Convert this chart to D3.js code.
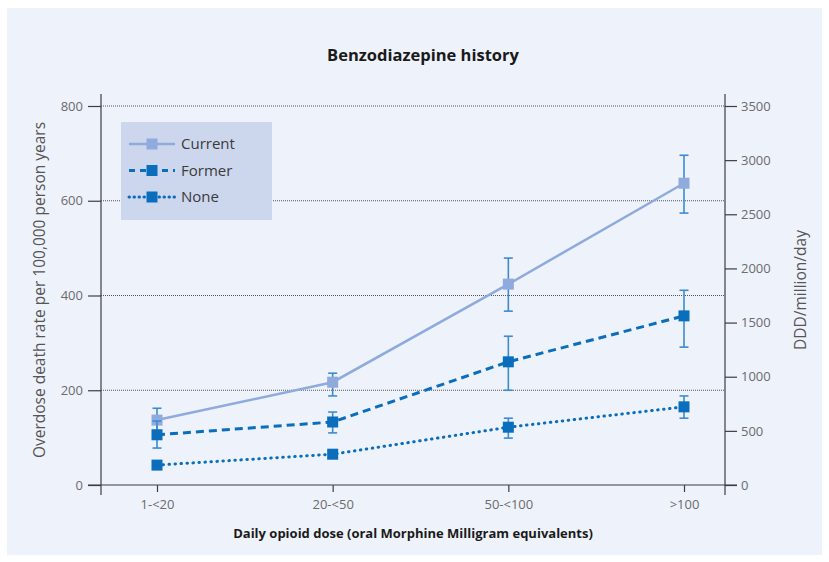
<!DOCTYPE html>
<html>
<head>
<meta charset="utf-8">
<script src="https://cdn.jsdelivr.net/npm/d3@7"></script>
<style>
  html, body { margin: 0; padding: 0; background: #ffffff; }
  svg { display: block; font-family: "Open Sans", "Noto Sans", sans-serif; }
</style>
</head>
<body>
<svg id="chart" width="829" height="562"></svg>
<script>
// Dose categories along the x axis
const doseCategories = ["1-<20", "20-<50", "50-<100", ">100"];

// Overdose death rate per 100,000 person years, by benzodiazepine history
const currentRate = [137, 217, 424, 637];
const currentLow  = [115, 188, 367, 574];
const currentHigh = [162, 236, 479, 696];

const formerRate = [106, 133, 260, 357];
const formerLow  = [78, 110, 200, 291];
const formerHigh = [135, 154, 314, 411];

const noneRate = [42, 65, 122, 165];
const noneLow  = [37, 59, 99, 141];
const noneHigh = [47, 71, 141, 188];

// Tick values for both y axes
const leftTicks = [0, 200, 400, 600, 800];
const rightTicks = [0, 500, 1000, 1500, 2000, 2500, 3000, 3500];

const seriesNames = ["Current", "Former", "None"];

const series = [
  { name: seriesNames[0], rate: currentRate, low: currentLow, high: currentHigh, color: "#8faadc", dash: null, legendDash: null },
  { name: seriesNames[1], rate: formerRate, low: formerLow, high: formerHigh, color: "#0a6ebd", dash: "8,5", legendDash: "6,5" },
  { name: seriesNames[2], rate: noneRate, low: noneLow, high: noneHigh, color: "#0a6ebd", dash: "0.5,5.5", legendDash: "0.5,4.5" }
];

const svg = d3.select("#chart");

// Panel background
svg.append("rect")
  .attr("x", 7).attr("y", 8).attr("width", 815).attr("height", 547)
  .attr("fill", "#eef2fb");

const plot = { left: 101, right: 725, top: 106, bottom: 485 };

// Category positions sit slightly off-centre between the two y axes
const x = d3.scalePoint()
  .domain(doseCategories)
  .range([plot.left + 56, plot.right - 41]);

const yLeft = d3.scaleLinear().domain([0, 800]).range([plot.bottom, plot.top]);
const yRight = d3.scaleLinear().domain([0, 3500]).range([plot.bottom, plot.top]);

const axisColor = "#3d3d3d";
const tickTextColor = "#6b6b6b";

// Dotted gridlines at the left-axis ticks
svg.append("g")
  .selectAll("line")
  .data(leftTicks.filter(d => d > 0))
  .join("line")
  .attr("x1", plot.left).attr("x2", plot.right)
  .attr("y1", d => yLeft(d)).attr("y2", d => yLeft(d))
  .attr("stroke", "#555")
  .attr("stroke-width", 1)
  .attr("stroke-dasharray", "1,1");

// Left axis
const leftAxis = svg.append("g")
  .attr("transform", `translate(${plot.left},0)`)
  .call(d3.axisLeft(yLeft).tickValues(leftTicks).tickSize(13).tickPadding(5));
leftAxis.select(".domain").remove();
leftAxis.append("line")
  .attr("x1", 0).attr("x2", 0).attr("y1", 94).attr("y2", 495)
  .attr("stroke", axisColor).attr("stroke-width", 1.2);

// Right axis
const rightAxis = svg.append("g")
  .attr("transform", `translate(${plot.right},0)`)
  .call(d3.axisRight(yRight).tickValues(rightTicks).tickFormat(d3.format("d")).tickSize(12).tickPadding(4));
rightAxis.select(".domain").remove();
rightAxis.append("line")
  .attr("x1", 0).attr("x2", 0).attr("y1", 94).attr("y2", 495)
  .attr("stroke", axisColor).attr("stroke-width", 1.2);

// Bottom axis
const bottomAxis = svg.append("g")
  .attr("transform", `translate(0,${plot.bottom})`)
  .call(d3.axisBottom(x).tickSize(7).tickPadding(8));
bottomAxis.select(".domain").remove();
bottomAxis.append("line")
  .attr("x1", 88).attr("x2", 737).attr("y1", 0).attr("y2", 0)
  .attr("stroke", axisColor).attr("stroke-width", 1.2);

[leftAxis, rightAxis, bottomAxis].forEach(g => {
  g.selectAll(".tick line").attr("stroke", axisColor).attr("stroke-width", 1.2);
  g.selectAll(".tick text")
    .attr("fill", tickTextColor)
    .style("font-size", "13px")
    .style("font-family", "'Open Sans', sans-serif");
});

// Lines
const line = d3.line().x(d => x(d.cat)).y(d => yLeft(d.v));

series.forEach(s => {
  const pts = doseCategories.map((c, i) => ({ cat: c, v: s.rate[i], lo: s.low[i], hi: s.high[i] }));

  svg.append("path")
    .datum(pts)
    .attr("d", line)
    .attr("fill", "none")
    .attr("stroke", s.color)
    .attr("stroke-width", s.name === "Current" ? 2.5 : 3)
    .attr("stroke-linecap", s.name === "None" ? "round" : "butt")
    .attr("stroke-dasharray", s.dash);

  // Confidence interval bars
  const eb = svg.append("g");
  eb.selectAll("line.v")
    .data(pts).join("line")
    .attr("x1", d => x(d.cat)).attr("x2", d => x(d.cat))
    .attr("y1", d => yLeft(d.lo)).attr("y2", d => yLeft(d.hi))
    .attr("stroke", "#3d8bd0").attr("stroke-width", 1.6);
  ["lo", "hi"].forEach(k => {
    eb.selectAll("line." + k)
      .data(pts).join("line")
      .attr("x1", d => x(d.cat) - 4.5).attr("x2", d => x(d.cat) + 4.5)
      .attr("y1", d => yLeft(d[k])).attr("y2", d => yLeft(d[k]))
      .attr("stroke", "#3d8bd0").attr("stroke-width", 1.6);
  });

  // Square markers
  svg.append("g").selectAll("rect")
    .data(pts).join("rect")
    .attr("x", d => x(d.cat) - 5.5).attr("y", d => yLeft(d.v) - 5.5)
    .attr("width", 11).attr("height", 11)
    .attr("fill", s.color);
});

// Legend
const legend = svg.append("g");
legend.append("rect")
  .attr("x", 121).attr("y", 122).attr("width", 151).attr("height", 98)
  .attr("fill", "#ccd7ed");
series.forEach((s, i) => {
  const ly = 144 + i * 26.5;
  legend.append("line")
    .attr("x1", 129).attr("x2", 175).attr("y1", ly).attr("y2", ly)
    .attr("stroke", s.color)
    .attr("stroke-width", s.name === "Current" ? 2.5 : 3)
    .attr("stroke-linecap", s.name === "None" ? "round" : "butt")
    .attr("stroke-dasharray", s.legendDash);
  legend.append("rect")
    .attr("x", 146.5).attr("y", ly - 5.5).attr("width", 11).attr("height", 11)
    .attr("fill", s.color);
  legend.append("text")
    .attr("x", 181).attr("y", ly + 5)
    .attr("fill", "#3a3a3a")
    .style("font-size", "15px")
    .text(s.name);
});

// Title
svg.append("text")
  .attr("x", 423).attr("y", 61)
  .attr("text-anchor", "middle")
  .attr("fill", "#1a1a1a")
  .style("font-size", "16.5px")
  .style("font-weight", "700")
  .text("Benzodiazepine history");

// Axis titles
svg.append("text")
  .attr("transform", "translate(45,290) rotate(-90)")
  .attr("text-anchor", "middle")
  .attr("fill", "#555")
  .style("font-size", "15.5px")
  .text("Overdose death rate per 100,000 person years");

svg.append("text")
  .attr("transform", "translate(806,290) rotate(-90)")
  .attr("text-anchor", "middle")
  .attr("fill", "#555")
  .style("font-size", "15.5px")
  .text("DDD/million/day");

svg.append("text")
  .attr("x", 413).attr("y", 538)
  .attr("text-anchor", "middle")
  .attr("fill", "#1a1a1a")
  .style("font-size", "13px")
  .style("font-weight", "700")
  .text("Daily opioid dose (oral Morphine Milligram equivalents)");
</script>
</body>
</html>
